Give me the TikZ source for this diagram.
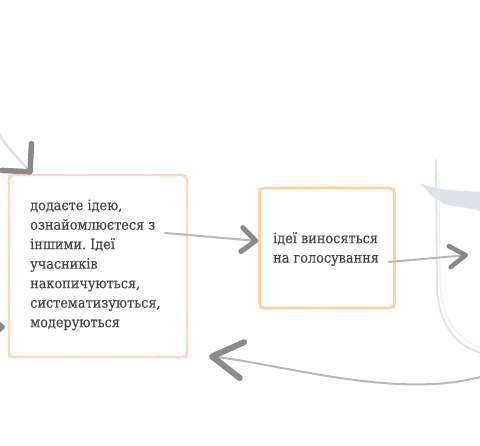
\documentclass[tikz,border=0pt]{standalone}
\usepackage{fontspec}
\setmainfont{DejaVu Serif Condensed}[FakeBold=0.4]
\usetikzlibrary{arrows.meta,decorations.pathmorphing}
\frenchspacing

\definecolor{salmonline}{HTML}{F8D8C6}
\definecolor{orangeline}{HTML}{FCD3A6}
\definecolor{bluegrey}{HTML}{DCE3EB}
\definecolor{inkgrey}{HTML}{474747}
\definecolor{brushgrey}{HTML}{9A9A9A}
\definecolor{headgrey}{HTML}{8A8A8A}

\tikzset{
  roughedge/.style={postaction={draw=#1, line width=1pt, decorate,
    decoration={random steps, segment length=5pt, amplitude=0.9pt}}},
  cardA/.style={draw=salmonline, line width=2.2pt, rounded corners=5pt,
    roughedge=salmonline, minimum width=178pt, minimum height=182pt, inner sep=0pt},
  cardB/.style={draw=orangeline, line width=2.6pt, rounded corners=5pt,
    roughedge=orangeline, minimum width=135pt, minimum height=120pt, inner sep=0pt},
  note/.style={text=inkgrey, align=left, inner sep=0pt,
    font=\fontsize{14.3pt}{19.5pt}\selectfont},
  brush/.style={draw=brushgrey!70, line width=2pt, line cap=round},
  headS/.style={-{Straight Barb[length=14pt, width=24pt, line width=5pt, round, color=headgrey]}},
  headM/.style={-{Straight Barb[length=16pt, width=21pt, line width=4.6pt, round, color=headgrey]}},
  headL/.style={-{Straight Barb[length=30pt, width=36pt, line width=6pt, round, color=headgrey]}},
  headTL/.style={-{Straight Barb[length=20pt, width=40pt, line width=5.5pt, round, color=headgrey]}},
}

\begin{document}
\begin{tikzpicture}[x=1pt, y=-1pt]
  \useasboundingbox[fill=white] (0,0) rectangle (480,446);
  \clip (0,0) rectangle (480,446);

  % stage on the right, partly outside the frame
  \fill[bluegrey] (421,184) -- (440,189) -- (462,191) -- (482,192)
    -- (482,211) -- (462,207) -- (446,205) -- (432,196) -- cycle;
  \draw[bluegrey, line width=1.8pt, line cap=round]
    (436,160) -- (437,290) .. controls (440,330) and (460,348) .. (485,354);
  \draw[bluegrey!70, line width=0.8pt]
    (439,175) -- (440,285) .. controls (443,325) and (462,343) .. (485,349);

  % cards
  \node[cardA] (b1) at (98,266) {};
  \node[note, anchor=west] (t1) at (30,265)
    {додаєте ідею,\\ознайомлюєтеся з\\іншими. Ідеї\\учасників\\накопичуються,\\систематизуються,\\модеруються};

  \node[cardB] (b2) at (327,248) {};
  \node[note, anchor=west] (t2) at (273,249)
    {ідеї виносяться\\на голосування};

  % connectors
  \coordinate (a1s) at (165,233);
  \draw[brush, headS] (a1s) -- ([yshift=7pt]b2.west);

  \coordinate (a2s) at ([xshift=-7pt, yshift=-14pt]b2.east);
  \coordinate (a2e) at (468,255);
  \draw[brush, headM] (a2s) -- (a2e);

  \coordinate (a3s) at (484,376);
  \draw[brush, headL] (a3s) .. controls (400,400) and (290,366)
    .. ([xshift=21pt, yshift=2pt]b1.south east);

  \coordinate (a4s) at (-10,118);
  \draw[draw=gray!25, line width=2.4pt, line cap=round, headTL]
    (a4s) .. controls (4,143) .. ([xshift=24pt, yshift=0pt]b1.north west);

  \coordinate (a5s) at (-40,327);
  \draw[brush, headS] (a5s) -- ([xshift=-3pt, yshift=-61pt]b1.west);
\end{tikzpicture}
\end{document}
